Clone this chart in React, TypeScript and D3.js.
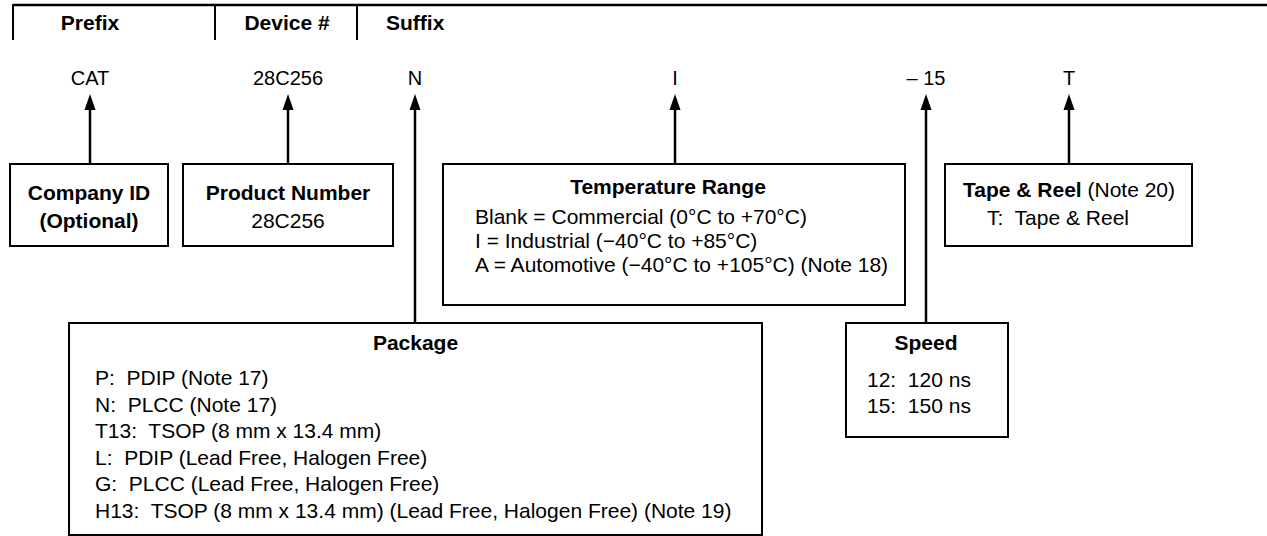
import React from "react";
import * as d3 from "d3";

// ---- content ----
const headers = ["Prefix", "Device #", "Suffix"];
const codes = ["CAT", "28C256", "N", "I", "– 15", "T"];
const companyLines = ["Company ID", "(Optional)"];
const productTitle = "Product Number";
const productLines = ["28C256"];
const tempTitle = "Temperature Range";
const tempLines = [
  "Blank = Commercial (0°C to +70°C)",
  "I = Industrial (−40°C to +85°C)",
  "A = Automotive (−40°C to +105°C) (Note 18)",
];
const tapeTitle = "Tape & Reel";
const tapeNote = " (Note 20)";
const tapeLines = ["T:  Tape & Reel"];
const packageTitle = "Package";
const packageLines = [
  "P:  PDIP (Note 17)",
  "N:  PLCC (Note 17)",
  "T13:  TSOP (8 mm x 13.4 mm)",
  "L:  PDIP (Lead Free, Halogen Free)",
  "G:  PLCC (Lead Free, Halogen Free)",
  "H13:  TSOP (8 mm x 13.4 mm) (Lead Free, Halogen Free) (Note 19)",
];
const speedTitle = "Speed";
const speedLines = ["12:  120 ns", "15:  150 ns"];

// ---- layout ----
const W = 1267;
const H = 536;
const FONT = "'Liberation Sans', Arial, Helvetica, sans-serif";
const FS = 21;
const FS_CODE = 20;
const codeX = d3.scaleOrdinal<string, number>().domain(codes).range([90, 288, 415, 675, 926, 1069]);
const headerX = [90, 287, 386];
const headerAnchor = ["middle", "middle", "start"];
const tickX = [13, 215, 357];

type Box = { x0: number; y0: number; x1: number; y1: number; code: string };
const boxes: Record<string, Box> = {
  company: { x0: 10, y0: 164, x1: 168, y1: 246, code: "CAT" },
  product: { x0: 183, y0: 164, x1: 393, y1: 246, code: "28C256" },
  temp: { x0: 443, y0: 164, x1: 905, y1: 305, code: "I" },
  tape: { x0: 945, y0: 164, x1: 1192, y1: 246, code: "T" },
  speed: { x0: 846, y0: 323, x1: 1008, y1: 437, code: "– 15" },
  pkg: { x0: 69, y0: 323, x1: 762, y1: 535, code: "N" },
};

const ARROW_TIP = 94;
const ARROW_H = 16;
const ARROW_W = 5.5;

function Arrow({ code, yEnd }: { code: string; yEnd: number }) {
  const x = codeX(code);
  return (
    <g>
      <line x1={x} x2={x} y1={ARROW_TIP + ARROW_H - 2} y2={yEnd} stroke="#000" strokeWidth={2.5} />
      <path
        d={d3.line()([
          [x, ARROW_TIP],
          [x + ARROW_W, ARROW_TIP + ARROW_H],
          [x - ARROW_W, ARROW_TIP + ARROW_H],
        ]) + "Z"}
        fill="#000"
      />
    </g>
  );
}

function Rect({ b }: { b: Box }) {
  return (
    <rect x={b.x0} y={b.y0} width={b.x1 - b.x0} height={b.y1 - b.y0} fill="none" stroke="#000" strokeWidth={2} />
  );
}

export default function App() {
  const lineY = (base: number, step: number) => (i: number) => base + i * step;
  const tY = lineY(224, 24);
  const pY = lineY(385, 26.5);
  const sY = lineY(387, 26);
  return (
    <div style={{ position: "absolute", left: 0, top: 0 }}>
      <svg width={W} height={H} style={{ display: "block", fontFamily: FONT }}>
        <rect width={W} height={H} fill="#fff" />
        {/* header rule */}
        <line x1={tickX[0]} x2={W} y1={5} y2={5} stroke="#000" strokeWidth={2.5} />
        {tickX.map((x) => (
          <line key={x} x1={x} x2={x} y1={4} y2={40} stroke="#000" strokeWidth={2} />
        ))}
        {headers.map((h, i) => (
          <text key={h} x={headerX[i]} y={30} fontSize={FS} fontWeight="bold" textAnchor={headerAnchor[i] as any}>
            {h}
          </text>
        ))}
        {/* codes */}
        {codes.map((c) => (
          <text key={c} x={codeX(c)} y={85} fontSize={FS_CODE} textAnchor="middle" style={{ whiteSpace: "pre" }}>
            {c}
          </text>
        ))}
        {/* arrows */}
        {Object.values(boxes).map((b) => (
          <Arrow key={b.code} code={b.code} yEnd={b.y0} />
        ))}
        {/* boxes */}
        {Object.values(boxes).map((b, i) => (
          <Rect key={i} b={b} />
        ))}
        {/* company */}
        {companyLines.map((t, i) => (
          <text key={t} x={(boxes.company.x0 + boxes.company.x1) / 2} y={200 + i * 28} fontSize={FS} fontWeight="bold" textAnchor="middle">
            {t}
          </text>
        ))}
        {/* product */}
        <text x={codeX("28C256")} y={200} fontSize={FS} fontWeight="bold" textAnchor="middle">
          {productTitle}
        </text>
        {productLines.map((t, i) => (
          <text key={t} x={codeX("28C256")} y={228 + i * 28} fontSize={FS} textAnchor="middle">
            {t}
          </text>
        ))}
        {/* temperature */}
        <text x={668} y={194} fontSize={FS} fontWeight="bold" textAnchor="middle">
          {tempTitle}
        </text>
        {tempLines.map((t, i) => (
          <text key={t} x={475} y={tY(i)} fontSize={FS} style={{ whiteSpace: "pre" }}>
            {t}
          </text>
        ))}
        {/* tape */}
        <text x={963} y={197} fontSize={FS} style={{ whiteSpace: "pre" }}>
          <tspan fontWeight="bold">{tapeTitle}</tspan>
          <tspan>{tapeNote}</tspan>
        </text>
        {tapeLines.map((t, i) => (
          <text key={t} x={987} y={225 + i * 26} fontSize={FS} style={{ whiteSpace: "pre" }}>
            {t}
          </text>
        ))}
        {/* speed */}
        <text x={codeX("– 15")} y={350} fontSize={FS} fontWeight="bold" textAnchor="middle">
          {speedTitle}
        </text>
        {speedLines.map((t, i) => (
          <text key={t} x={867} y={sY(i)} fontSize={FS} style={{ whiteSpace: "pre" }}>
            {t}
          </text>
        ))}
        {/* package */}
        <text x={(boxes.pkg.x0 + boxes.pkg.x1) / 2} y={350} fontSize={FS} fontWeight="bold" textAnchor="middle">
          {packageTitle}
        </text>
        {packageLines.map((t, i) => (
          <text key={t} x={95} y={pY(i)} fontSize={FS} style={{ whiteSpace: "pre" }}>
            {t}
          </text>
        ))}
      </svg>
    </div>
  );
}
